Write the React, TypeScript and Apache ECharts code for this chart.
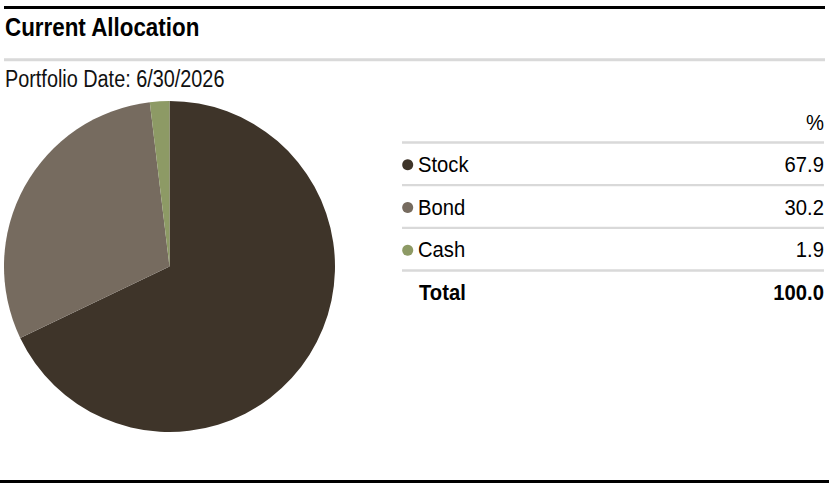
import React, { useEffect, useRef } from "react";
import * as echarts from "echarts";

const categories = ["Stock", "Bond", "Cash"];
const values = [67.9, 30.2, 1.9];
const colors = ["#3e3429", "#766b5f", "#8d9a65"];
const totalLabel = "Total";
const totalValue = "100.0";
const titleText = "Current Allocation";
const subtitleText = "Portfolio Date: 6/30/2026";
const columnHeader = "%";

const FONT = '"Liberation Sans", Arial, sans-serif';

export default function App() {
  const ref = useRef<HTMLDivElement>(null);
  useEffect(() => {
    if (!ref.current) return;
    const chart = echarts.init(ref.current, null, { renderer: "svg" });
    const tableLeft = 402;
    const tableRight = 824;
    const rowTop = 141.3;
    const rowH = 42.67;
    const cellFont = `22px ${FONT}`;
    const cellBold = `bold 22px ${FONT}`;
    const cellScale = 0.92;
    const graphics: any[] = [
      { type: "rect", shape: { x: 4, y: 6, width: 821, height: 3 }, style: { fill: "#000" } },
      { type: "rect", shape: { x: 4, y: 58.3, width: 821, height: 3 }, style: { fill: "#d9d9d9" } },
      { type: "rect", shape: { x: 0, y: 480, width: 829, height: 3 }, style: { fill: "#000" } },
      {
        type: "text", x: 5, y: 28, scaleX: 0.895,
        style: { text: titleText, font: `bold 25px ${FONT}`, fill: "#000", verticalAlign: "middle", textAlign: "left" },
      },
      {
        type: "text", x: 5, y: 78.5, scaleX: 0.81,
        style: { text: subtitleText, font: `24.5px ${FONT}`, fill: "#111", verticalAlign: "middle", textAlign: "left" },
      },
      {
        type: "text", x: tableRight, y: 122.5, scaleX: cellScale,
        style: { text: columnHeader, font: cellFont, fill: "#000", verticalAlign: "middle", textAlign: "right" },
      },
    ];
    const rows = categories.map((c, i) => ({ name: c, value: values[i].toFixed(1), color: colors[i] }));
    for (let i = 0; i <= rows.length; i++) {
      graphics.push({
        type: "rect",
        shape: { x: tableLeft, y: rowTop + i * rowH, width: tableRight - tableLeft, height: 2.4 },
        style: { fill: "#d9d9d9" },
      });
    }
    rows.forEach((r, i) => {
      const cy = rowTop + i * rowH + 23;
      graphics.push({ type: "circle", shape: { cx: 407.7, cy: cy + 0.5, r: 5.5 }, style: { fill: r.color } });
      graphics.push({
        type: "text", x: 418, y: cy, scaleX: cellScale,
        style: { text: r.name, font: cellFont, fill: "#000", verticalAlign: "middle", textAlign: "left" },
      });
      graphics.push({
        type: "text", x: tableRight, y: cy, scaleX: cellScale,
        style: { text: r.value, font: cellFont, fill: "#000", verticalAlign: "middle", textAlign: "right" },
      });
    });
    const ty = rowTop + rows.length * rowH + 23;
    graphics.push({
      type: "text", x: 419, y: ty, scaleX: cellScale,
      style: { text: totalLabel, font: cellBold, fill: "#000", verticalAlign: "middle", textAlign: "left" },
    });
    graphics.push({
      type: "text", x: tableRight, y: ty, scaleX: cellScale,
      style: { text: totalValue, font: cellBold, fill: "#000", verticalAlign: "middle", textAlign: "right" },
    });

    chart.setOption({
      animation: false,
      backgroundColor: "#fff",
      graphic: graphics,
      series: [
        {
          type: "pie",
          center: [169.5, 266.5],
          radius: 165.5,
          startAngle: 90,
          clockwise: true,
          label: { show: false },
          labelLine: { show: false },
          silent: true,
          itemStyle: { borderWidth: 0 },
          data: categories.map((c, i) => ({ name: c, value: values[i], itemStyle: { color: colors[i] } })),
        },
      ],
    });
    return () => chart.dispose();
  }, []);
  return (
    <div
      ref={ref}
      style={{ position: "fixed", left: 0, top: 0, width: 836, height: 488, background: "#fff" }}
    />
  );
}
